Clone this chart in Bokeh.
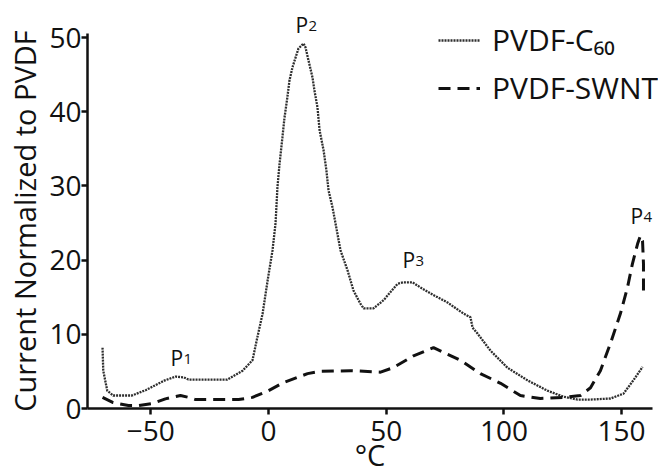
from bokeh.plotting import figure
from bokeh.models import Label, Legend, LegendItem, FixedTicker, Range1d
from bokeh.embed import file_html
from bokeh.resources import INLINE

# PVDF-C60 (dotted)
c60_x = [-70.5, -70.2, -68.5, -66, -58, -52, -44, -39.5, -36, -34, -17.5, -11, -6.8, -5, -2.5, -0.4,
         1.7, 3, 3.8, 4.7, 5.9, 6.8, 8, 8.9, 10.2, 11.5, 12.7, 14.9, 15.7, 17, 18.7, 19.5, 20.8, 21.7,
         23.4, 24.6, 25.5, 27.2, 28.5, 30.6, 33.6, 36.1, 39.1, 40.4, 44.6, 48.9, 54.8, 57.3, 61.2, 64.6,
         70, 76, 82.8, 85.8, 86.7, 88.8, 94.3, 101.5, 110, 118.5, 125.3, 131.3, 136.8, 145.3, 150.8, 155, 158.9]
c60_y = [8.2, 5.1, 2.4, 1.75, 1.75, 2.5, 3.8, 4.3, 4.2, 3.9, 3.9, 5.1, 6.5, 9.2, 12.8, 17.2,
         21.3, 25.0, 29.8, 33, 36.5, 39.2, 41.9, 44.2, 46, 47.3, 48.5, 49.2, 48.7, 46.9, 44.6, 42.9, 40.6, 37.5,
         34.8, 32.1, 29.4, 27.1, 24.9, 21.3, 18.6, 15.9, 14.1, 13.5, 13.5, 14.6, 16.8, 17, 17, 16.3,
         15.3, 14.3, 12.8, 12.3, 10.9, 10.1, 7.8, 5.5, 3.8, 2.4, 1.6, 1.2, 1.2, 1.35, 2, 3.8, 5.6]

# PVDF-SWNT (dashed)
swnt_x = [-70.5, -66, -59.5, -55, -49, -43.8, -37.4, -34, -31, -12.7, -6.8, 0, 6.4, 16.6, 22, 34.8,
          47.6, 53, 61.6, 70.1, 81.6, 90, 98.6, 107, 115.5, 125.3, 132.5, 136.8, 141, 145.3, 149.5,
          152.5, 154.6, 156.8, 158, 158.9, 159.3, 159.3]
swnt_y = [1.5, 0.8, 0.4, 0.4, 0.7, 1.3, 1.75, 1.5, 1.2, 1.2, 1.5, 2.4, 3.5, 4.7, 5, 5.1,
          4.9, 5.5, 7.1, 8.2, 6.5, 4.7, 3.4, 1.75, 1.35, 1.5, 1.75, 2.8, 5.1, 8.8, 12.8,
          16.3, 19.5, 22.2, 23.3, 22.6, 19.5, 15.9]

x_ticks = [-50, 0, 50, 100, 150]
y_ticks = [0, 10, 20, 30, 40, 50]
x_axis_span = (-76.9, 163.1)
y_axis_span = (0, 50.54)

peak_names = ["1", "2", "3", "4"]
peak_x = [-41.6, 11.5, 56.9, 153.8]
peak_y = [6.8, 51.7, 20.0, 26.0]

FONT = "Open Sans"

p = figure(width=658, height=475, output_backend="svg", toolbar_location=None,
           x_range=Range1d(-113.85, 165.68), y_range=Range1d(-9.03, 54.99),
           min_border_left=0, min_border_right=0, min_border_top=0, min_border_bottom=0)
p.outline_line_color = None
p.xgrid.visible = False
p.ygrid.visible = False
p.background_fill_color = "white"
p.border_fill_color = "white"

r1 = p.line(c60_x, c60_y, line_color="#2e2e2e", line_width=2.3, line_dash="2 1")
r2 = p.line(swnt_x, swnt_y, line_color="#111111", line_width=3, line_dash="12 7")

for ax in (p.xaxis[0], p.yaxis[0]):
    ax.axis_line_width = 2.5
    ax.axis_line_color = "#111111"
    ax.major_tick_line_width = 2.5
    ax.major_tick_line_color = "#111111"
    ax.major_tick_in = 0
    ax.major_tick_out = 6
    ax.minor_tick_line_color = None
    ax.major_label_text_font = FONT
    ax.major_label_text_font_size = "28px"
    ax.major_label_text_color = "#111111"
    ax.axis_label_text_font = FONT
    ax.axis_label_text_font_style = "normal"
    ax.axis_label_text_font_size = "29px"
    ax.axis_label_text_color = "#111111"

p.xaxis[0].fixed_location = 0
p.yaxis[0].fixed_location = x_axis_span[0]
p.xaxis[0].bounds = x_axis_span
p.yaxis[0].bounds = y_axis_span
p.xaxis[0].ticker = FixedTicker(ticks=x_ticks)
p.yaxis[0].ticker = FixedTicker(ticks=y_ticks)
p.xaxis[0].axis_label = "°C"
p.yaxis[0].axis_label = "Current Normalized to PVDF"
p.xaxis[0].major_label_standoff = 6
p.yaxis[0].major_label_standoff = 0
p.xaxis[0].axis_label_standoff = -9
p.yaxis[0].axis_label_standoff = 2

for name, x, y in zip(peak_names, peak_x, peak_y):
    p.add_layout(Label(x=x, y=y, text="P", text_font=FONT, text_font_size="21px",
                       text_color="#111111", text_baseline="alphabetic", text_align="left"))
    p.add_layout(Label(x=x, y=y, x_offset=13, y_offset=-1, text=name, text_font=FONT,
                       text_font_size="15px", text_color="#111111",
                       text_baseline="alphabetic", text_align="left"))

legend = Legend(items=[LegendItem(label="PVDF-C₆₀", renderers=[r1]),
                       LegendItem(label="PVDF-SWNT", renderers=[r2])],
                location=(438, 367), padding=0, margin=0, spacing=7,
                glyph_width=42, glyph_height=36, label_height=36, label_standoff=12,
                label_text_font=FONT, label_text_font_size="30px", label_text_color="#111111",
                background_fill_alpha=0, border_line_color=None)
p.add_layout(legend)

open("out.html", "w").write(file_html(p, INLINE))
